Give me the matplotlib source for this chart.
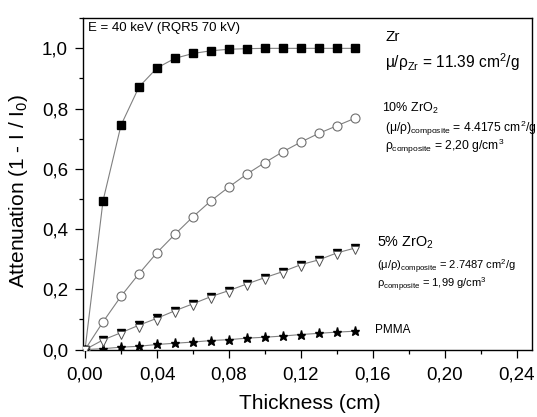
import matplotlib
matplotlib.use("Agg")
import matplotlib.pyplot as plt
from matplotlib.ticker import MultipleLocator, FuncFormatter

plt.rcParams['font.family'] = ['Liberation Sans', 'DejaVu Sans']
plt.rcParams['mathtext.fontset'] = 'custom'
plt.rcParams['mathtext.rm'] = 'Liberation Sans'
plt.rcParams['mathtext.it'] = 'Liberation Sans'
plt.rcParams['mathtext.bf'] = 'Liberation Sans:bold'

thickness = [0.00, 0.01, 0.02, 0.03, 0.04, 0.05, 0.06, 0.07, 0.08,
             0.09, 0.10, 0.11, 0.12, 0.13, 0.14, 0.15]
zr = [0.0, 0.494, 0.745, 0.872, 0.935, 0.967, 0.983, 0.992, 0.997,
      0.999, 1.0, 1.0, 1.0, 1.0, 1.0, 1.0]
zro2_10 = [0.0, 0.092, 0.177, 0.252, 0.322, 0.383, 0.441, 0.494, 0.540,
           0.583, 0.621, 0.657, 0.689, 0.718, 0.743, 0.768]
zro2_5_a = [0.0, 0.032, 0.056, 0.081, 0.104, 0.129, 0.152, 0.176, 0.196,
            0.218, 0.239, 0.259, 0.282, 0.298, 0.321, 0.337]
zro2_5_b = [0.0, 0.024, 0.048, 0.073, 0.096, 0.121, 0.144, 0.168, 0.188,
            0.210, 0.231, 0.251, 0.274, 0.290, 0.313, 0.329]
pmma = [0.0, 0.003, 0.008, 0.011, 0.017, 0.021, 0.025, 0.030, 0.033,
        0.038, 0.041, 0.045, 0.050, 0.054, 0.058, 0.061]

fig = plt.figure(figsize=(5.37, 4.17), dpi=100)
ax = fig.add_axes([0.154, 0.1595, 0.837, 0.7975])

lc = '#808080'
lw = 0.8
ax.plot(thickness, zr, color=lc, lw=lw, marker='s', ms=5.5,
        mfc='black', mec='black', zorder=3)
ax.plot(thickness, zro2_10, color=lc, lw=lw, marker='o', ms=6.5,
        mfc='white', mec='#707070', mew=0.8, zorder=3)
ax.plot(thickness, zro2_5_a, color=lc, lw=lw, marker='v', ms=6,
        mfc='black', mec='black', zorder=3)
ax.plot(thickness, zro2_5_b, color=lc, lw=0, marker='v', ms=6,
        mfc='white', mec='#555555', mew=0.7, zorder=4)
ax.plot(thickness, pmma, color=lc, lw=lw, marker='*', ms=6.5,
        mfc='black', mec='black', zorder=3)

ax.set_xlim(-0.0013, 0.2485)
ax.set_ylim(-0.003, 1.101)
ax.xaxis.set_major_locator(MultipleLocator(0.04))
ax.xaxis.set_minor_locator(MultipleLocator(0.02))
ax.yaxis.set_major_locator(MultipleLocator(0.2))
ax.yaxis.set_minor_locator(MultipleLocator(0.1))
ax.xaxis.set_major_formatter(FuncFormatter(lambda v, p: f"{v:.2f}".replace('.', ',')))
ax.yaxis.set_major_formatter(FuncFormatter(lambda v, p: f"{v:.1f}".replace('.', ',')))
ax.tick_params(which='both', direction='out', top=False, right=False,
               labelsize=13.5, width=0.9, color='black')
ax.tick_params(which='major', length=5.5)
ax.tick_params(which='minor', length=3)
ax.tick_params(axis='x', which='major', pad=6)
ax.tick_params(axis='y', which='major', pad=5)
for s in ax.spines.values():
    s.set_linewidth(1.0)

ax.set_xlabel('Thickness (cm)', fontsize=15)
ax.set_ylabel(r'Attenuation (1 - I / I$_0$)', fontsize=15)
ax.xaxis.set_label_coords(0.506, -0.159)
ax.xaxis.label.set_va('center')
ax.yaxis.set_label_coords(-0.142, 0.481)
ax.yaxis.label.set_va('center')


def ftext(x, y, s, size):
    fig.text(x / 537, 1 - y / 417, s, fontsize=size, va='center', ha='left')


ftext(88, 28, 'E = 40 keV (RQR5 70 kV)', 9.5)
ftext(385, 37, 'Zr', 11)
ftext(385, 62, r'$\mu/\rho_{Zr}$ = 11.39 cm$^2$/g', 11.2)
ftext(382, 108, r'10% ZrO$_2$', 9)
ftext(385, 128, r'$(\mu/\rho)_{composite}$ = 4.4175 cm$^2$/g', 8.7)
ftext(385, 146, r'$\rho_{composite}$ = 2,20 g/cm$^3$', 8.7)
ftext(377, 243, r'5% ZrO$_2$', 10.4)
ftext(377, 267, r'$(\mu/\rho)_{composite}$ = 2.7487 cm$^2$/g', 8)
ftext(377, 285, r'$\rho_{composite}$ = 1,99 g/cm$^3$', 8)
ftext(375, 330, 'PMMA', 8.5)

fig.savefig('out.png', dpi=100)
